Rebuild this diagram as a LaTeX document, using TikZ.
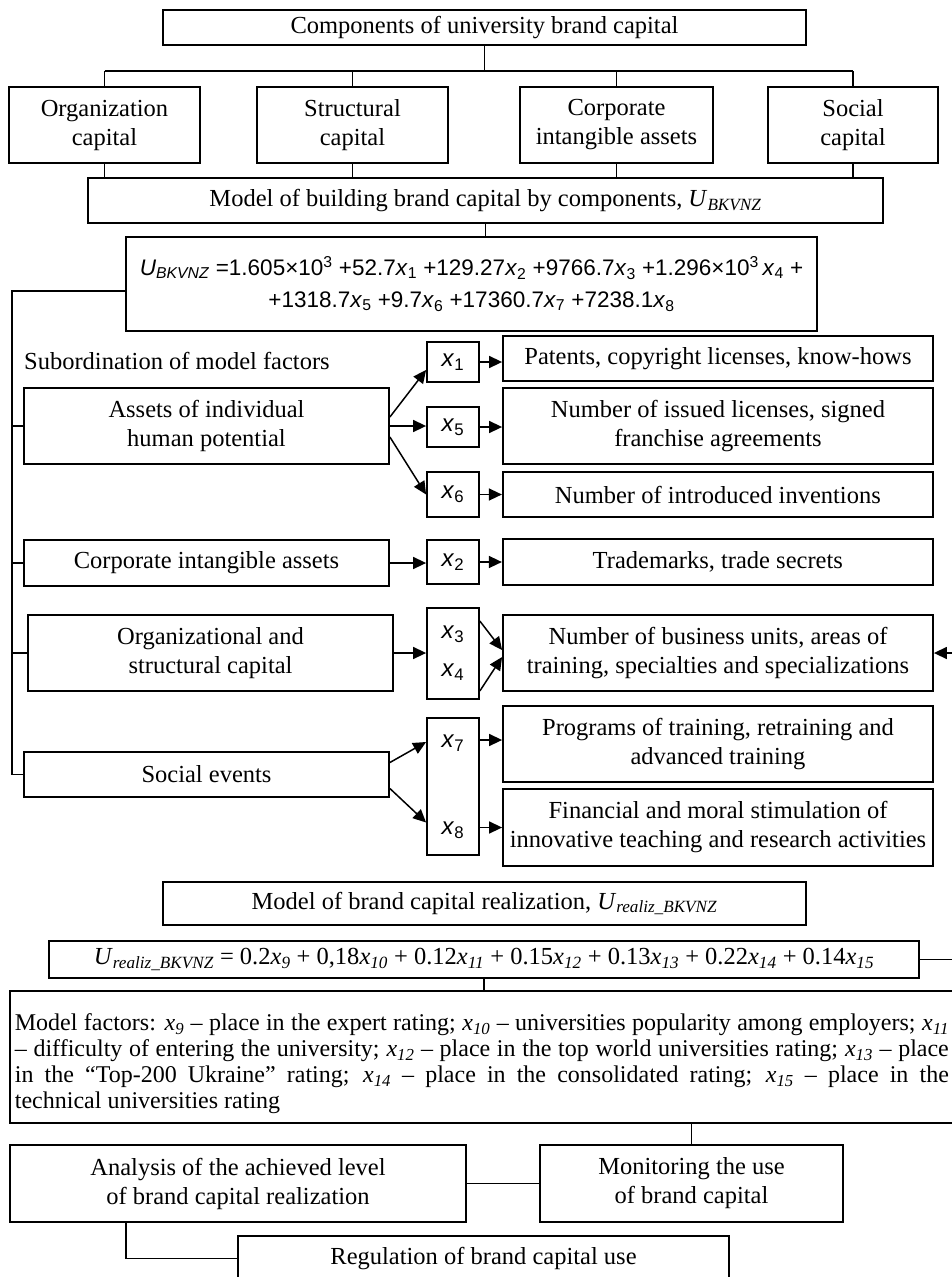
\documentclass[tikz,border=0pt]{standalone}
\usepackage{fontspec}
\setmainfont{Liberation Serif}
\newfontfamily\eqfont{Liberation Sans}
\usetikzlibrary{positioning, arrows.meta}
\newcommand{\xv}[1]{\textit{x}\textsubscript{\textit{#1}}}
\newcommand{\xe}[1]{\textit{x}\textsubscript{#1}}
\newcommand{\ubk}{\textit{U}\textsubscript{\textit{BKVNZ}}}
\newcommand{\urz}{\textit{U}\textsubscript{\textit{realiz\_BKVNZ}}}

\begin{document}
\begin{tikzpicture}[x=1pt, y=-1pt,
    main/.style={rectangle, draw, line width=1.8pt, align=center, inner sep=0pt, font=\fontsize{24.5}{29}\selectfont},
    xbox/.style={main, minimum width=52pt, font=\eqfont\fontsize{24}{30}\selectfont},
    link/.style={line width=1.5pt},
    >={Triangle[length=13pt, width=12pt]}]
    \useasboundingbox (0,0) rectangle (952,1277);
    \coordinate (bus1) at (0,71);
    \coordinate (bus) at (12,0);

    \node[main, minimum width=643pt, minimum height=35pt] (comp) at (484.5,27.5) {Components of university brand capital};
    \node[main, minimum width=191pt, minimum height=76pt] (org) at (104.5,125) {Organization\\capital};
    \node[main, minimum width=191pt, minimum height=76pt] (str) at (352.5,125) {Structural\\capital};
    \node[main, minimum width=193pt, minimum height=76pt] (cor) at (616.5,125) {Corporate\\intangible assets};
    \node[main, minimum width=170pt, minimum height=76pt] (soc) at (853,125) {Social\\capital};
    \node[main, minimum width=795pt, minimum height=45pt] (mod) at (485.5,200.5) {Model of building brand capital by components, \ubk};
    \node[main, minimum width=691pt, minimum height=94pt, font=\eqfont\fontsize{22.5}{32}\selectfont] (eq1) at (471.5,284)
        {\ubk{} =1.605×10\textsuperscript{3} +52.7\xe{1} +129.27\xe{2} +9766.7\xe{3} +1.296×10\textsuperscript{3}\,\xe{4} +\\
         +1318.7\xe{5} +9.7\xe{6} +17360.7\xe{7} +7238.1\xe{8}};

    \draw[link] (comp.south) -- (comp.south |- bus1);
    \draw[link] (org.north |- bus1) -- (soc.north |- bus1);
    \foreach \n in {org,str,cor,soc} {
        \draw[link] (\n.north) -- (\n.north |- bus1);
        \draw[link] (\n.south) -- (\n.south |- mod.north);
    }
    \draw[link] (mod.south) -- (mod.south |- eq1.north);

    \node[anchor=west, inner sep=0pt, font=\fontsize{24.5}{29}\selectfont] (sub) at (24,361) {Subordination of model factors};

    \node[main, minimum width=365pt, minimum height=76pt] (ast) at (206.5,426) {Assets of individual\\human potential};
    \node[main, minimum width=365pt, minimum height=46pt] (cia) at (206.5,563) {Corporate intangible assets};
    \node[main, minimum width=365pt, minimum height=76pt] (oas) at (210.5,653) {Organizational and\\structural capital};
    \node[main, minimum width=365pt, minimum height=45pt] (sev) at (206.5,774.5) {Social events};

    \node[xbox, minimum height=40pt] (x1) at (453,362) {\xe{1}};
    \node[xbox, minimum height=40pt] (x5) at (453,427) {\xe{5}};
    \node[xbox, minimum height=45pt] (x6) at (453,494.5) {\xe{6}};
    \node[xbox, minimum height=44pt] (x2) at (453,562) {\xe{2}};
    \node[xbox, minimum height=91pt] (x34) at (453,653.5) {\xe{3}\\[8pt]\xe{4}};
    \node[xbox, minimum height=137pt] (x78) at (453,786.5) {\xe{7}\\[57pt]\xe{8}};

    \node[main, minimum width=430pt, minimum height=45pt] (pat) at (718,358.5) {Patents, copyright licenses, know-hows};
    \node[main, minimum width=430pt, minimum height=76pt] (lic) at (718,426) {Number of issued licenses, signed\\franchise agreements};
    \node[main, minimum width=430pt, minimum height=45pt, right=22pt of x6] (inv) {Number of introduced inventions};
    \node[main, minimum width=430pt, minimum height=46pt, right=22pt of x2] (tm) {Trademarks, trade secrets};
    \node[main, minimum width=430pt, minimum height=76pt] (biz) at (718,653) {Number of business units, areas of\\training, specialties and specializations};
    \node[main, minimum width=430pt, minimum height=76pt] (prg) at (718,744) {Programs of training, retraining and\\advanced training};
    \node[main, minimum width=430pt, minimum height=77pt] (fin) at (718,827.5) {Financial and moral stimulation of\\innovative teaching and research activities};

    \draw[link] ([yshift=-7pt]eq1.west) -| (bus |- sev.west) -- (sev.west);
    \foreach \n in {ast,cia,oas}
        \draw[link] (\n.west) -- (bus |- \n.west);

    \draw[link, ->] ([yshift=9pt]ast.east) -- ([yshift=-8pt]x1.west);
    \draw[link, ->] (ast.east) -- (ast.east -| x5.west);
    \draw[link, ->] ([yshift=-11pt]ast.east) -- (x6.west);
    \draw[link, ->] (cia.east) -- (cia.east -| x2.west);
    \draw[link, ->] (oas.east) -- (oas.east -| x34.west);
    \draw[link, ->] ([yshift=12pt]sev.east) -- ([yshift=44.5pt]x78.west);
    \draw[link, ->] ([yshift=-14pt]sev.east) -- ([yshift=-36pt]x78.west);

    \draw[link, ->] (x1.east) -- (x1.east -| pat.west);
    \draw[link, ->] (x5.east) -- (x5.east -| lic.west);
    \draw[link, ->] (x6) -- (inv);
    \draw[link, ->] (x2) -- (tm);
    \draw[link, ->] ([yshift=-14pt]x34.north east) -- ([yshift=3pt]biz.west);
    \draw[link, ->] ([yshift=9pt]x34.south east) -- ([yshift=-4pt]biz.west);
    \draw[link, ->] ([yshift=4pt]x78.east |- prg.west) -- ([yshift=4pt]prg.west);
    \draw[link, ->] (x78.east |- fin.west) -- (fin.west);

    \node[main, minimum width=643pt, minimum height=43pt] (rlz) at (484.5,903.5) {Model of brand capital realization, \urz};
    \node[main, minimum width=870pt, minimum height=37pt] (eq2) at (484,959.5)
        {\urz{} = 0.2\xv{9} + 0,18\xv{10} + 0.12\xv{11} + 0.15\xv{12} + 0.13\xv{13} + 0.22\xv{14} + 0.14\xv{15}};
    \draw[link, ->] (eq2.east) -- ++(50,0) |- (biz.east);

    \node[main, anchor=north west, text width=934pt, inner xsep=5pt, minimum height=132pt, align=justify,
          font=\fontsize{24}{26}\selectfont] (fac) at (9,990)
        {\hyphenpenalty=10000\emergencystretch=2em\relax
         \rule{0pt}{30pt}Model factors: \xv{9} – place in the expert rating; \xv{10} – universities popularity among employers; \xv{11}\linebreak
         – difficulty of entering the university; \xv{12} – place in the top world universities rating; \xv{13} – place\linebreak
         in the “Top-200 Ukraine” rating; \xv{14} – place in the consolidated rating; \xv{15} – place in the\linebreak
         technical universities rating};
    \draw[link] (eq2.south) -- (eq2.south |- fac.north);

    \node[main, minimum width=456pt, minimum height=77pt] (ana) at (238,1183.5) {Analysis of the achieved level\\of brand capital realization};
    \node[main, minimum width=303pt, minimum height=77pt] (mon) at (691.5,1183.5) {Monitoring the use\\of brand capital};
    \node[main, minimum width=491pt, minimum height=45pt] (reg) at (483.5,1258.5) {Regulation of brand capital use};
    \draw[link] (mon.north) -- (mon.north |- fac.south);
    \draw[link] (ana) -- (mon);
    \draw[link] ([xshift=-112pt]ana.south) |- (reg.west);
\end{tikzpicture}
\end{document}
